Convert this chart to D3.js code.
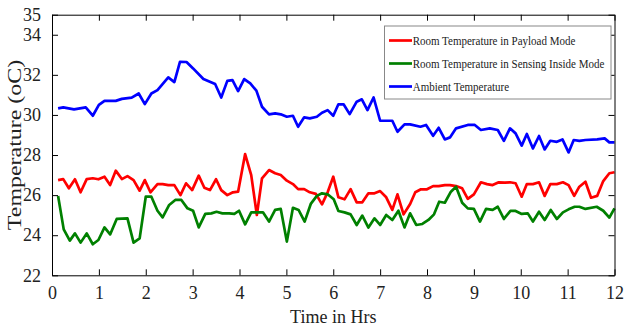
<!DOCTYPE html>
<html>
<head>
<meta charset="utf-8">
<script src="https://cdn.jsdelivr.net/npm/d3@7"></script>
<style>
  body { margin: 0; background: #fff; }
  svg text { font-family: "Liberation Serif", "Times New Roman", serif; fill: #222; }
</style>
</head>
<body>
<div id="chart"></div>
<script>
// [time in hrs, temperature in oC]
const payload = [
  [0.13,26.75],[0.24,26.8],[0.36,26.34],[0.49,26.79],[0.61,26.14],[0.74,26.8],[0.87,26.84],[0.99,26.79],
  [1.12,26.92],[1.24,26.5],[1.36,27.22],[1.49,26.8],[1.61,26.95],[1.74,26.75],[1.87,26.22],[1.98,26.75],
  [2.1,26.14],[2.25,26.55],[2.36,26.55],[2.48,26.5],[2.61,26.5],[2.74,26.0],[2.86,26.59],[2.99,26.25],
  [3.13,26.97],[3.25,26.37],[3.37,26.25],[3.5,26.79],[3.61,26.25],[3.74,26.0],[3.86,26.14],[3.97,26.17],
  [4.12,28.05],[4.25,27.0],[4.37,25.01],[4.48,26.84],[4.63,27.25],[4.76,27.09],[4.88,27.0],[5.01,26.72],
  [5.14,26.55],[5.25,26.3],[5.38,26.3],[5.5,26.14],[5.63,26.06],[5.76,25.54],[5.88,26.14],[6.0,26.92],
  [6.11,25.89],[6.24,25.79],[6.37,26.3],[6.5,25.64],[6.62,25.64],[6.75,26.09],[6.88,26.09],[7.0,26.2],
  [7.13,25.89],[7.26,25.26],[7.37,26.04],[7.5,25.04],[7.64,25.56],[7.75,26.14],[7.87,26.29],[8.0,26.29],
  [8.13,26.45],[8.25,26.45],[8.38,26.5],[8.49,26.5],[8.62,26.45],[8.75,26.34],[8.87,25.81],[9.0,26.04],
  [9.15,26.64],[9.28,26.55],[9.4,26.5],[9.53,26.64],[9.66,26.62],[9.77,26.64],[9.89,26.59],[10.02,25.92],
  [10.13,26.55],[10.26,26.55],[10.39,26.64],[10.51,25.96],[10.63,26.55],[10.77,26.55],[10.9,26.64],[11.02,26.5],
  [11.14,25.96],[11.25,26.42],[11.38,26.67],[11.5,25.87],[11.63,25.96],[11.76,26.7],[11.89,27.09],[12.0,27.14]
];
const sensing = [
  [0.13,25.96],[0.25,24.29],[0.38,23.73],[0.49,24.09],[0.61,23.63],[0.74,24.09],[0.87,23.55],[0.99,23.76],
  [1.12,24.39],[1.24,24.04],[1.38,24.81],[1.61,24.84],[1.74,23.63],[1.87,23.84],[2.0,25.92],[2.12,25.92],
  [2.25,25.22],[2.36,24.89],[2.5,25.51],[2.63,25.76],[2.76,25.76],[2.89,25.34],[3.01,25.22],[3.13,24.39],
  [3.27,25.06],[3.4,25.09],[3.51,25.17],[3.635,25.09],[3.78,25.09],[3.89,25.06],[3.99,25.22],[4.12,24.54],
  [4.25,25.14],[4.5,25.14],[4.63,24.68],[4.76,25.26],[4.88,25.31],[5.01,23.68],[5.14,25.37],[5.26,25.26],
  [5.39,24.68],[5.52,25.56],[5.65,25.96],[5.76,26.09],[5.88,26.04],[6.01,25.79],[6.11,25.21],[6.24,25.14],
  [6.37,25.04],[6.5,24.51],[6.62,24.98],[6.75,24.38],[6.88,24.84],[7.0,24.51],[7.13,25.01],[7.26,24.76],
  [7.39,25.22],[7.52,24.39],[7.64,25.09],[7.77,24.51],[7.9,24.56],[8.03,24.76],[8.15,25.04],[8.26,25.67],
  [8.38,25.62],[8.51,26.17],[8.62,26.42],[8.75,25.62],[8.87,25.34],[9.0,25.31],[9.13,24.68],[9.26,25.31],
  [9.4,25.26],[9.51,25.42],[9.64,24.81],[9.78,25.21],[9.89,25.21],[10.02,25.06],[10.15,25.09],[10.26,24.68],
  [10.39,25.17],[10.51,24.76],[10.64,25.26],[10.77,24.81],[10.9,25.14],[11.02,25.29],[11.15,25.42],[11.25,25.42],
  [11.38,25.31],[11.62,25.42],[11.76,25.22],[11.89,24.88],[12.0,25.34]
];
const ambient = [
  [0.13,30.33],[0.24,30.38],[0.47,30.28],[0.72,30.38],[0.87,29.96],[1.0,30.5],[1.12,30.7],[1.36,30.7],
  [1.49,30.8],[1.7,30.86],[1.85,31.07],[1.98,30.54],[2.12,31.07],[2.25,31.24],[2.48,31.87],[2.61,31.64],
  [2.73,32.65],[2.87,32.64],[3.01,32.32],[3.23,31.79],[3.48,31.54],[3.61,30.87],[3.74,31.7],[3.85,31.74],
  [3.97,31.19],[4.1,31.79],[4.23,31.57],[4.36,31.21],[4.48,30.41],[4.63,30.03],[4.76,30.08],[4.88,30.03],
  [5.01,29.91],[5.14,29.96],[5.25,29.41],[5.38,29.88],[5.5,29.83],[5.65,29.91],[5.76,30.11],[5.88,30.24],
  [6.0,29.96],[6.11,30.53],[6.22,30.53],[6.35,30.04],[6.5,30.66],[6.61,30.78],[6.73,30.24],[6.86,30.87],
  [7.0,29.71],[7.26,29.71],[7.37,29.16],[7.52,29.53],[7.64,29.53],[7.86,29.41],[7.98,29.5],[8.13,28.96],
  [8.25,29.36],[8.38,28.78],[8.49,28.88],[8.62,29.33],[8.87,29.5],[9.02,29.5],[9.15,29.25],[9.34,29.33],
  [9.51,29.25],[9.64,28.71],[9.77,29.33],[9.89,29.08],[10.02,28.47],[10.13,29.05],[10.26,28.33],[10.39,28.95],
  [10.51,28.28],[10.63,28.71],[10.77,28.66],[10.89,28.78],[11.02,28.13],[11.13,28.75],[11.25,28.71],[11.38,28.75],
  [11.63,28.78],[11.79,28.83],[11.89,28.63],[12.0,28.63]
];

const xTicks = [0,1,2,3,4,5,6,7,8,9,10,11,12];
const yTicks = [22,24,26,28,30,32,34,35];

const seriesNames = [
  "Room Temperature in Payload Mode",
  "Room Temperature in Sensing Inside Mode",
  "Ambient Temperature"
];
const seriesColors = ["#ff0000", "#008000", "#0000ff"];

const W = 624, H = 333;
const margin = { top: 14.7, right: 9.5, bottom: 57.7, left: 52 };
const width = W - margin.left - margin.right;
const height = H - margin.top - margin.bottom;

const svg = d3.select("#chart").append("svg")
  .attr("width", W)
  .attr("height", H);

const g = svg.append("g")
  .attr("transform", `translate(${margin.left},${margin.top})`);

const x = d3.scaleLinear().domain([0, 12]).range([0, width]);
const y = d3.scaleLinear().domain([22, 35]).range([height, 0]);

// lines
const line = d3.line().x(d => x(d[0])).y(d => y(d[1]));
[payload, sensing, ambient].forEach((s, i) => {
  g.append("path")
    .datum(s)
    .attr("fill", "none")
    .attr("stroke", seriesColors[i])
    .attr("stroke-width", 2.7)
    .attr("stroke-linejoin", "round")
    .attr("d", line);
});

// axes with inward ticks on every side (matlab box style)
const tickLen = 6;
function styleAxis(sel) {
  sel.select(".domain").attr("stroke", "#000").attr("stroke-width", 1);
  sel.selectAll(".tick line").attr("stroke", "#000");
  sel.selectAll("text").style("font-size", "18px").attr("fill", "#222");
}

g.append("g")
  .attr("transform", `translate(0,${height})`)
  .call(d3.axisBottom(x).tickValues(xTicks).tickSize(-tickLen).tickPadding(11).tickSizeOuter(0))
  .call(styleAxis);

g.append("g")
  .call(d3.axisTop(x).tickValues(xTicks).tickSize(-tickLen).tickFormat("").tickSizeOuter(0))
  .call(styleAxis);

g.append("g")
  .call(d3.axisLeft(y).tickValues(yTicks).tickSize(-tickLen).tickPadding(11).tickSizeOuter(0))
  .call(styleAxis);

g.append("g")
  .attr("transform", `translate(${width},0)`)
  .call(d3.axisRight(y).tickValues(yTicks).tickSize(-tickLen).tickFormat("").tickSizeOuter(0))
  .call(styleAxis);

// axis titles
svg.append("text")
  .attr("x", margin.left + width / 2)
  .attr("y", 323.3)
  .attr("text-anchor", "middle")
  .style("font-size", "18px")
  .text("Time in Hrs");

// the y title is drawn stretched along its length, as in the figure
svg.append("text")
  .attr("transform", `translate(20.5,${margin.top + height / 2}) rotate(-90) scale(1.33,1)`)
  .attr("text-anchor", "middle")
  .style("font-size", "18px")
  .text("Temperature (oC)");

// legend
const legend = svg.append("g").attr("transform", "translate(384.5,26)");
legend.append("rect")
  .attr("width", 226.5)
  .attr("height", 73)
  .attr("fill", "#fff")
  .attr("stroke", "#888")
  .attr("stroke-width", 1);

seriesNames.forEach((name, i) => {
  const cy = 14.5 + i * 23;
  legend.append("line")
    .attr("x1", 4.5).attr("x2", 27.5)
    .attr("y1", cy).attr("y2", cy)
    .attr("stroke", seriesColors[i])
    .attr("stroke-width", 2.7);
  // condensed text like the original
  legend.append("text")
    .attr("transform", `translate(28.2,${cy + 4}) scale(0.88,1)`)
    .style("font-size", "12.5px")
    .text(name);
});
</script>
</body>
</html>
